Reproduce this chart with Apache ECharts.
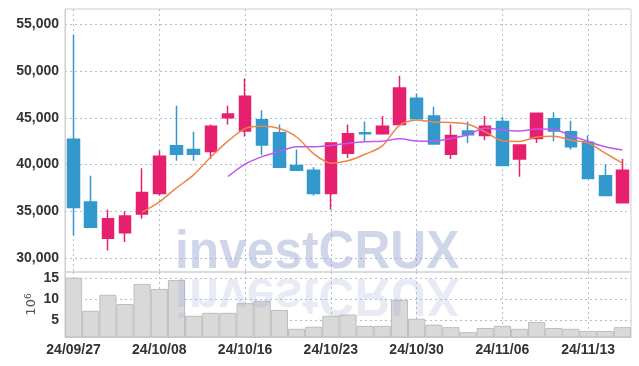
<!DOCTYPE html>
<html><head><meta charset="utf-8">
<script src="https://cdn.jsdelivr.net/npm/echarts@6/dist/echarts.min.js"></script>
<style>html,body{margin:0;padding:0;background:#fff}#c{width:639px;height:366px}</style>
</head><body><div id="c"></div>
<script>
const dates = ['24/09/27','24/09/30','24/10/02','24/10/04','24/10/07','24/10/08','24/10/10','24/10/11','24/10/14','24/10/15','24/10/16','24/10/17','24/10/18','24/10/21','24/10/22','24/10/23','24/10/24','24/10/25','24/10/28','24/10/29','24/10/30','24/10/31','24/11/01','24/11/04','24/11/05','24/11/06','24/11/07','24/11/08','24/11/11','24/11/12','24/11/13','24/11/14','24/11/15'];
// [open, close, low, high]
const candles = [
 [42700,35400,32400,53900],[36000,33300,33300,38800],[32100,34200,30800,35200],[32700,34500,31700,35000],
 [34700,37000,34200,39600],[36900,40900,36700,41500],[42000,41100,40400,46300],[41600,41100,40400,43500],
 [41400,44100,40600,44300],[45000,45400,44300,46300],[43600,47300,43000,49200],[44800,42100,41000,45800],
 [43400,39700,39700,44300],[39900,39400,39400,41600],[39400,36900,36700,39700],[36900,42300,35200,42300],
 [41200,43300,40700,44300],[43400,43300,42500,44600],[43300,44100,43200,45200],[44300,48200,44300,49500],
 [47100,44900,44900,47600],[45200,42200,42200,46200],[41100,43100,40600,44300],[43600,43200,42300,44600],
 [43100,44100,42600,45200],[44600,39900,39900,45100],[40600,42100,38700,42100],[42800,45500,42300,45500],
 [44900,43600,42500,45600],[43500,41900,41600,44700],[42400,38500,38500,43100],[38800,36700,36700,40000],
 [35900,39400,35900,40600]
];
const ma5 = ['-','-','-','-',34900,36000,37500,38900,40800,42500,43850,44100,43850,42950,41150,40150,40400,41100,42000,44200,44780,44540,44500,44320,43500,42550,42480,42960,43040,42600,42320,41220,40150];
const ma10 = ['-','-','-','-','-','-','-','-','-',38720,40050,40850,41390,41900,41900,42050,42280,42450,42500,42750,42520,42500,42800,43200,43920,43700,43580,43800,43750,43100,42480,41900,41550];
const volumes = [15.1,7.2,11.0,8.8,13.6,12.4,14.5,6.0,6.7,6.7,9.0,9.6,7.4,2.9,3.4,6.0,6.3,3.6,3.6,9.8,5.3,3.9,3.3,2.1,3.1,3.6,2.9,4.5,3.1,2.9,2.4,2.4,3.3];
const priceTicks = [30000,35000,40000,45000,50000,55000];
const volumeTicks = [5,10,15];

const chart = echarts.init(document.getElementById('c'), null, {renderer:'canvas'});
const lblFont = '"Liberation Sans",Arial,sans-serif';
const lbl = {color:'#333', fontFamily:lblFont, fontSize:14, fontWeight:'bold'};
const gridLine = {show:true, interval:4, alignWithLabel:true, lineStyle:{color:'#b4bcd8', type:[2,3], width:1}};
const hLine = {show:true, lineStyle:{color:'#b4bcd8', type:[2,3], width:1}};
const wmColor = 'rgba(150,163,208,0.45)';
const wmColor2 = 'rgba(150,163,208,0.22)';
chart.setOption({
  backgroundColor:'#fff',
  animation:false,
  grid:[
    {left:65, right:8, top:9, height:263, show:true, borderColor:'#cfcfcf', borderWidth:1, containLabel:false, outerBoundsMode:'none'},
    {left:65, right:8, top:272, height:65, show:true, borderColor:'#cfcfcf', borderWidth:1, containLabel:false, outerBoundsMode:'none'}
  ],
  xAxis:[
    {type:'category', gridIndex:0, data:dates, boundaryGap:true,
     axisLine:{show:false}, axisTick:{show:false, interval:4, alignWithLabel:true},
     axisLabel:{show:false, interval:4}, splitLine:gridLine},
    {type:'category', gridIndex:1, data:dates, boundaryGap:true,
     axisLine:{show:true, lineStyle:{color:'#cfcfcf'}}, axisTick:{show:false, interval:4, alignWithLabel:true},
     axisLabel:Object.assign({show:true, interval:4, margin:6}, lbl),
     splitLine:gridLine}
  ],
  yAxis:[
    {type:'value', gridIndex:0, min:28500, max:56650,
     axisLine:{show:true, lineStyle:{color:'#cfcfcf'}},
     axisTick:{show:false, customValues:priceTicks},
     axisLabel:Object.assign({customValues:priceTicks, margin:6, formatter:v=>v.toLocaleString('en-US')}, lbl),
     splitLine:hLine},
    {type:'value', gridIndex:1, min:0.95, max:16.43,
     axisLine:{show:true, lineStyle:{color:'#cfcfcf'}},
     axisTick:{show:false, customValues:volumeTicks},
     axisLabel:Object.assign({customValues:volumeTicks, margin:6}, lbl),
     splitLine:hLine,
     name:'10{s|6}', nameLocation:'middle', nameRotate:90, nameGap:25, nameMoveOverlap:false,
     nameTextStyle:{color:'#555', fontFamily:'"DejaVu Sans",sans-serif', fontSize:13,
       rich:{s:{fontSize:9, color:'#555', verticalAlign:'top', padding:[0,0,7,0]}}}}
  ],
  series:[
    {type:'bar', xAxisIndex:1, yAxisIndex:1, data:volumes, barWidth:'100%', barCategoryGap:0,
     itemStyle:{color:'#d9d9d9', borderColor:'#bdbdbd', borderWidth:1}, z:2},
    {type:'candlestick', xAxisIndex:0, yAxisIndex:0, data:candles, barWidth:12,
     itemStyle:{color:'#e6206e', color0:'#3399cc', borderColor:'#e6206e', borderColor0:'#3399cc', borderWidth:1.5}, z:3},
    {type:'line', xAxisIndex:0, yAxisIndex:0, data:ma5, showSymbol:false, smooth:0.3,
     lineStyle:{color:'#f08448', width:1.5}, z:4},
    {type:'line', xAxisIndex:0, yAxisIndex:0, data:ma10, showSymbol:false, smooth:0.3,
     lineStyle:{color:'#c455ee', width:1.5}, z:4}
  ],
  graphic:[
    {type:'text', x:175, y:280, scaleX:0.92, z:100, silent:true,
     style:{text:'investCRUX', font:'bold 54px "Liberation Sans",sans-serif', fill:wmColor, align:'left', verticalAlign:'bottom'}},
    {type:'text', x:175, y:267, scaleX:0.92, scaleY:-1, z:100, silent:true,
     style:{text:'investCRUX', font:'bold 54px "Liberation Sans",sans-serif', fill:wmColor2, align:'left', verticalAlign:'bottom'}}
  ]
});
</script></body></html>
